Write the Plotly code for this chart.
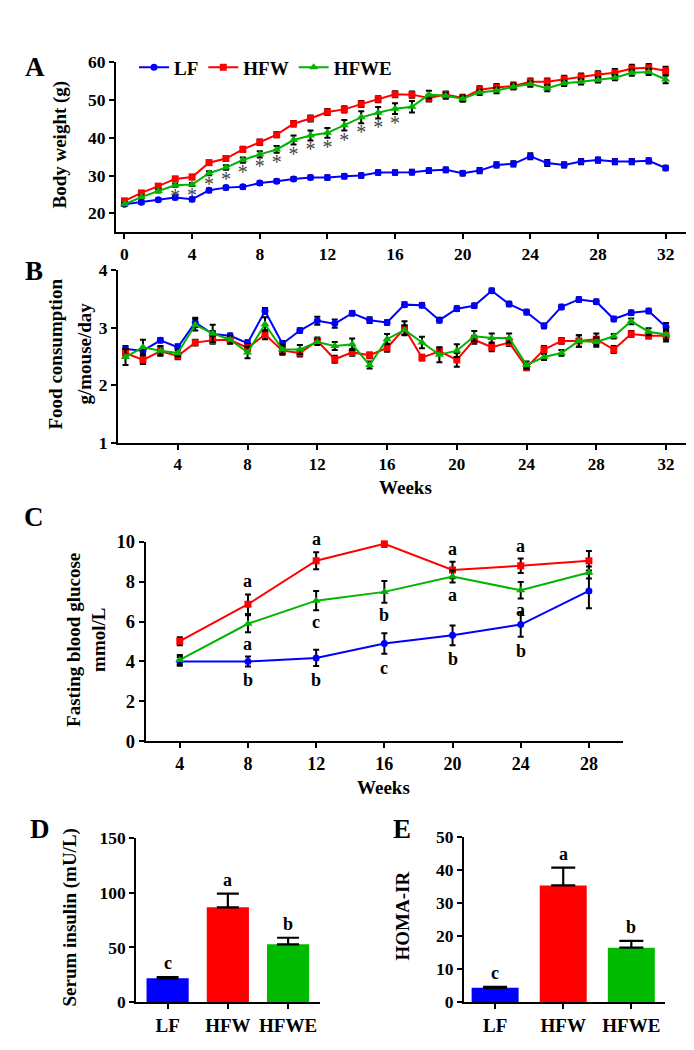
import plotly.graph_objects as go

FONT = "Liberation Serif"
W, H = 694, 1050
BLUE, RED, GREEN = "#0000FF", "#FF0000", "#00B400"
BAR_GREEN = "#00BB00"

# ---------------- Panel A: body weight ----------------
weeks_A = list(range(0, 33))
lf_bw = [22.4, 22.9, 23.6, 24.2, 23.7, 26.1, 26.8, 27.0, 28.0, 28.5, 29.1, 29.5, 29.5,
         29.8, 30.0, 30.8, 30.8, 30.9, 31.3, 31.5, 30.6, 31.3, 32.8, 33.1, 35.1, 33.3,
         32.8, 33.7, 34.1, 33.7, 33.7, 33.9, 32.0]
hfw_bw = [23.3, 25.4, 27.2, 29.1, 29.6, 33.4, 34.5, 36.9, 38.8, 40.8, 43.7, 45.1, 46.8,
          47.5, 48.9, 50.2, 51.5, 51.4, 50.5, 51.4, 50.5, 52.7, 53.3, 53.7, 54.8, 54.8,
          55.5, 56.1, 56.7, 57.2, 58.3, 58.5, 57.7]
hfwe_bw = [22.4, 24.3, 25.9, 27.4, 27.6, 30.6, 32.1, 34.1, 35.6, 36.9, 39.4, 40.6, 41.3,
           43.3, 45.4, 46.6, 47.7, 48.2, 51.4, 51.1, 50.3, 52.0, 52.5, 53.5, 54.2, 53.1,
           54.4, 54.8, 55.3, 55.9, 57.2, 57.4, 55.4]
lf_bw_err = [0.3, 0.4, 0.4, 0.5, 0.5, 0.5, 0.5, 0.5, 0.5, 0.5, 0.5, 0.5, 0.6, 0.6, 0.6, 0.6, 0.6,
             0.6, 0.6, 0.6, 0.6, 0.7, 0.7, 0.7, 0.8, 0.8, 0.7, 0.7, 0.7, 0.7, 0.7, 0.7, 0.6]
hfw_bw_err = [0.4, 0.5, 0.5, 0.6, 0.6, 0.6, 0.6, 0.7, 0.7, 0.7, 0.7, 0.8, 0.8, 0.8, 0.8, 0.8, 0.8,
              0.8, 0.9, 0.8, 0.9, 0.9, 0.9, 0.9, 0.9, 0.9, 0.9, 0.9, 0.9, 1.0, 1.0, 1.0, 1.1]
hfwe_bw_err = [0.3, 0.4, 0.4, 0.4, 0.4, 0.5, 0.6, 0.7, 0.8, 0.9, 1.2, 1.3, 1.3, 1.4, 1.6, 1.5, 1.4,
               1.5, 1.0, 0.8, 0.7, 0.7, 0.7, 0.7, 0.7, 0.8, 0.7, 0.7, 0.7, 0.7, 0.8, 0.8, 1.0]
star_weeks = [3, 4, 5, 6, 7, 8, 9, 10, 11, 12, 13, 14, 15, 16]

# ---------------- Panel B: food consumption ----------------
weeks_B = list(range(1, 33))
lf_fc = [2.63, 2.60, 2.78, 2.66, 3.09, 2.89, 2.86, 2.73, 3.29, 2.72, 2.95, 3.12, 3.07, 3.25,
         3.13, 3.09, 3.40, 3.39, 3.13, 3.33, 3.38, 3.64, 3.41, 3.27, 3.03, 3.36, 3.49, 3.45,
         3.15, 3.26, 3.29, 3.01]
hfw_fc = [2.56, 2.44, 2.59, 2.51, 2.74, 2.78, 2.79, 2.65, 2.88, 2.60, 2.56, 2.77, 2.45, 2.57,
          2.52, 2.65, 2.99, 2.48, 2.59, 2.44, 2.79, 2.66, 2.74, 2.31, 2.62, 2.77, 2.77, 2.80,
          2.62, 2.89, 2.86, 2.86]
hfwe_fc = [2.49, 2.66, 2.60, 2.56, 3.05, 2.90, 2.79, 2.57, 3.06, 2.62, 2.62, 2.75, 2.68, 2.71,
           2.35, 2.80, 2.96, 2.74, 2.53, 2.60, 2.85, 2.82, 2.82, 2.35, 2.49, 2.56, 2.77, 2.75,
           2.85, 3.11, 2.93, 2.88]
lf_fc_err = [0.05, 0.05, 0.04, 0.05, 0.08, 0.05, 0.04, 0.05, 0.05, 0.05, 0.04, 0.07, 0.07, 0.04,
             0.05, 0.04, 0.04, 0.04, 0.04, 0.04, 0.04, 0.04, 0.04, 0.04, 0.04, 0.04, 0.04, 0.04,
             0.04, 0.04, 0.04, 0.07]
hfw_fc_err = [0.07, 0.07, 0.08, 0.06, 0.05, 0.06, 0.06, 0.06, 0.08, 0.07, 0.06, 0.06, 0.06, 0.06,
              0.05, 0.07, 0.12, 0.05, 0.06, 0.12, 0.07, 0.07, 0.06, 0.05, 0.06, 0.05, 0.10, 0.10,
              0.06, 0.05, 0.05, 0.10]
hfwe_fc_err = [0.14, 0.13, 0.08, 0.06, 0.10, 0.15, 0.07, 0.10, 0.12, 0.08, 0.08, 0.05, 0.07, 0.10,
               0.06, 0.09, 0.08, 0.10, 0.13, 0.11, 0.09, 0.08, 0.08, 0.06, 0.05, 0.05, 0.10, 0.08,
               0.04, 0.05, 0.06, 0.09]

# ---------------- Panel C: fasting blood glucose ----------------
weeks_C = [4, 8, 12, 16, 20, 24, 28]
lf_glu = [4.00, 4.00, 4.18, 4.90, 5.31, 5.85, 7.54]
hfw_glu = [5.02, 6.87, 9.05, 9.90, 8.59, 8.80, 9.05]
hfwe_glu = [4.08, 5.89, 7.05, 7.49, 8.26, 7.57, 8.46]
lf_glu_err = [0.22, 0.25, 0.41, 0.51, 0.49, 0.61, 0.87]
hfw_glu_err = [0.20, 0.49, 0.43, 0.15, 0.41, 0.36, 0.49]
hfwe_glu_err = [0.25, 0.43, 0.48, 0.54, 0.30, 0.41, 0.30]
hfw_glu_letters = ["", "a", "a", "a", "a", "a", ""]
hfwe_glu_letters = ["", "a", "c", "b", "a", "a", ""]
lf_glu_letters = ["", "b", "b", "c", "b", "b", ""]

# ---------------- Panels D/E ----------------
groups = ["LF", "HFW", "HFWE"]
insulin = [21.8, 86.7, 52.9]
insulin_err = [1.2, 12.5, 6.0]
insulin_letters = ["c", "a", "b"]
homa = [4.36, 35.35, 16.5]
homa_err = [0.3, 5.4, 2.1]
homa_letters = ["c", "a", "b"]

bold = dict(family=FONT, color="black", weight="bold")


def f(size):
    return dict(bold, size=size)


def px_x(p):
    return p / W


def px_y(p):
    return 1 - p / H


fig = go.Figure()


def add_series(x, y, err, color, symbol, name, xa, ya, show, msize=7):
    fig.add_trace(go.Scatter(
        x=x, y=y, mode="lines+markers", name=name, showlegend=show,
        xaxis=xa, yaxis=ya,
        line=dict(color=color, width=2),
        marker=dict(color=color, symbol=symbol, size=msize),
        error_y=dict(type="data", array=err, visible=True, color="black",
                     thickness=2, width=3),
        cliponaxis=False,
    ))


series = [("LF", BLUE, "circle"), ("HFW", RED, "square"), ("HFWE", GREEN, "triangle-up")]

# A
for (name, col, sym), y, e in zip(series, [lf_bw, hfw_bw, hfwe_bw],
                                  [lf_bw_err, hfw_bw_err, hfwe_bw_err]):
    add_series(weeks_A, y, e, col, sym, name, "x", "y", True, 7 if sym != "triangle-up" else 8)

fig.add_trace(go.Scatter(
    x=star_weeks,
    y=[hfwe_bw[w] - hfwe_bw_err[w] - 2.9 for w in star_weeks],
    mode="text", text=["*"] * len(star_weeks), textposition="middle center",
    textfont=dict(family=FONT, size=20, color="#444444"),
    showlegend=False, xaxis="x", yaxis="y", hoverinfo="skip", cliponaxis=False))

# B
for (name, col, sym), y, e in zip(series, [lf_fc, hfw_fc, hfwe_fc],
                                  [lf_fc_err, hfw_fc_err, hfwe_fc_err]):
    add_series(weeks_B, y, e, col, sym, name, "x2", "y2", False, 7 if sym != "triangle-up" else 8)

# C
for (name, col, sym), y, e in zip(series, [lf_glu, hfw_glu, hfwe_glu],
                                  [lf_glu_err, hfw_glu_err, hfwe_glu_err]):
    add_series(weeks_C, y, e, col, sym, name, "x3", "y3", False, 7 if sym != "triangle-up" else 8)

# D, E bars
bar_colors = [BLUE, RED, BAR_GREEN]
fig.add_trace(go.Bar(
    x=[0, 1, 2], y=insulin, width=0.7, marker=dict(color=bar_colors, line=dict(width=0)),
    error_y=dict(type="data", symmetric=False, array=insulin_err, arrayminus=[0, 0, 0],
                 color="black", thickness=2.2, width=11),
    xaxis="x4", yaxis="y4", showlegend=False))
fig.add_trace(go.Bar(
    x=[0, 1, 2], y=homa, width=0.69, marker=dict(color=bar_colors, line=dict(width=0)),
    error_y=dict(type="data", symmetric=False, array=homa_err, arrayminus=[0, 0, 0],
                 color="black", thickness=2.2, width=12),
    xaxis="x5", yaxis="y5", showlegend=False))


def axis(**kw):
    d = dict(showline=True, linecolor="black", linewidth=2, ticks="outside", ticklen=5,
             tickwidth=2, tickcolor="black", showgrid=False, zeroline=False,
             tickfont=f(17.5), fixedrange=True)
    d.update(kw)
    return d


annotations = []

# letters for C
for i, w in enumerate(weeks_C):
    if hfw_glu_letters[i]:
        annotations.append(dict(x=w, y=hfw_glu[i] + hfw_glu_err[i], xref="x3", yref="y3",
                                text=hfw_glu_letters[i], showarrow=False, yanchor="bottom",
                                yshift=1, font=f(18)))
    if hfwe_glu_letters[i]:
        annotations.append(dict(x=w, y=hfwe_glu[i] - hfwe_glu_err[i], xref="x3", yref="y3",
                                text=hfwe_glu_letters[i], showarrow=False, yanchor="top",
                                yshift=0, font=f(18)))
    if lf_glu_letters[i]:
        annotations.append(dict(x=w, y=lf_glu[i] - lf_glu_err[i], xref="x3", yref="y3",
                                text=lf_glu_letters[i], showarrow=False, yanchor="top",
                                yshift=-2, font=f(18)))

for i in range(3):
    annotations.append(dict(x=i, y=insulin[i] + insulin_err[i], xref="x4", yref="y4",
                            text=insulin_letters[i], showarrow=False, yanchor="bottom",
                            yshift=2, font=f(18)))
    annotations.append(dict(x=i, y=homa[i] + homa_err[i], xref="x5", yref="y5",
                            text=homa_letters[i], showarrow=False, yanchor="bottom",
                            yshift=2, font=f(18)))

# panel letters
for txt, x, y in [("A", 27, 50), ("B", 26, 258), ("C", 26, 509), ("D", 32, 827), ("E", 394, 827)]:
    annotations.append(dict(x=px_x(x), y=px_y(y), xref="paper", yref="paper", text=txt,
                            showarrow=False, xanchor="center", yanchor="middle", font=f(27)))

# axis titles
for txt, x, y in [("Body weight (g)", 52, 129), ("Food consumption", 47, 342),
                  ("g/mouse/day", 76, 342), ("Fasting blood glucose", 66, 634),
                  ("mmol/L", 91, 634), ("Serum insulin (mU/L)", 62, 917), ("HOMA-IR", 395, 916)]:
    annotations.append(dict(x=px_x(x), y=px_y(y), xref="paper", yref="paper", text=txt,
                            showarrow=False, xanchor="center", yanchor="middle",
                            textangle=-90, font=f(19)))
for txt, x, y in [("Weeks", 397, 479), ("Weeks", 376, 784)]:
    annotations.append(dict(x=px_x(x), y=px_y(y), xref="paper", yref="paper", text=txt,
                            showarrow=False, xanchor="center", yanchor="middle", font=f(19),
                            borderpad=0))

fig.update_layout(
    width=W, height=H, margin=dict(l=0, r=0, t=0, b=0),
    paper_bgcolor="white", plot_bgcolor="white",
    font=dict(family=FONT, color="black"),
    showlegend=True,
    legend=dict(orientation="h", x=px_x(126), y=px_y(31), xanchor="left", yanchor="top",
                font=f(19), bgcolor="rgba(0,0,0,0)", itemwidth=30, tracegroupgap=0),
    xaxis=axis(domain=[px_x(108), px_x(683)], range=[-0.5, 33.5], anchor="y",
               tickvals=list(range(0, 33, 4))),
    yaxis=axis(domain=[px_y(218), px_y(45)], range=[15.1, 60], anchor="x",
               tickvals=[20, 30, 40, 50, 60]),
    xaxis2=axis(domain=[px_x(110), px_x(683)], range=[0.57, 33.43], anchor="y2",
                tickvals=list(range(4, 33, 4)), tickfont=f(17)),
    yaxis2=axis(domain=[px_y(433), px_y(257)], range=[1, 4], anchor="x2",
                tickvals=[1, 2, 3, 4]),
    xaxis3=axis(domain=[px_x(137.7), px_x(615)], range=[2, 30], anchor="y3",
                tickvals=weeks_C, tickfont=f(18)),
    yaxis3=axis(domain=[px_y(737.3), px_y(534)], range=[0, 10], anchor="x3",
                tickvals=[0, 2, 4, 6, 8, 10], tickfont=f(18.5)),
    xaxis4=axis(domain=[px_x(128.3), px_x(312)], range=[-0.52, 2.53], anchor="y4",
                tickvals=[0, 1, 2], ticktext=groups, tickfont=f(19)),
    yaxis4=axis(domain=[px_y(1003.3), px_y(836)], range=[0, 150], anchor="x4",
                tickvals=[0, 50, 100, 150], tickfont=f(17.5)),
    xaxis5=axis(domain=[px_x(456), px_x(656.7)], range=[-0.457, 2.49], anchor="y5",
                tickvals=[0, 1, 2], ticktext=groups, tickfont=f(19)),
    yaxis5=axis(domain=[px_y(1003.3), px_y(835)], range=[0, 50], anchor="x5",
                tickvals=[0, 10, 20, 30, 40, 50], tickfont=f(17.5)),
    annotations=annotations,
)

fig.write_html("out.html")
